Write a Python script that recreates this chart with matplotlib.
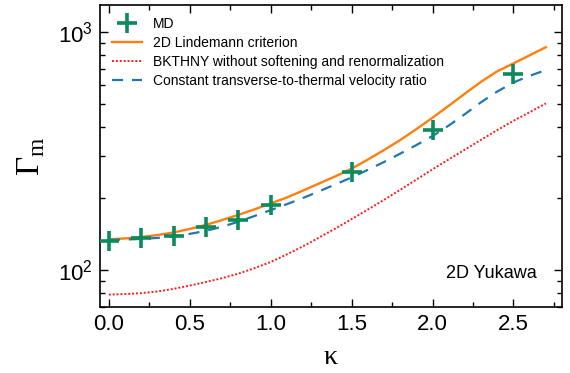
import numpy as np
import matplotlib
matplotlib.use('Agg')
import matplotlib.pyplot as plt
from matplotlib.ticker import LogLocator, MultipleLocator, NullFormatter

plt.rcParams['font.family'] = 'Liberation Sans'

# MD simulation points
md_kappa = [0.0, 0.2, 0.4, 0.6, 0.8, 1.0, 1.5, 2.0, 2.5]
md_gamma = [132, 136, 139, 151, 163, 188, 259, 388, 667]

curve_kappa = [0.0, 0.1, 0.2, 0.3, 0.4, 0.5, 0.6, 0.7, 0.8, 0.9, 1.0, 1.1, 1.2, 1.3,
               1.4, 1.5, 1.6, 1.7, 1.8, 1.9, 2.0, 2.1, 2.2, 2.3, 2.4, 2.5, 2.6, 2.7]
lindemann = [134.6, 135.8, 137.7, 140.3, 143.9, 148.9, 154.9, 162.2, 170.6, 179.9,
             190.5, 201.8, 215.8, 231.2, 247.7, 266.7, 291.1, 319.2, 351.6, 390.8,
             436.5, 489.8, 550.8, 618.0, 683.9, 737.9, 798.0, 863.0]
bkthny = [78.9, 79.3, 80.0, 81.3, 83.4, 86.1, 89.1, 92.5, 96.6, 101.9,
          108.1, 116.4, 125.9, 137.1, 149.6, 163.7, 179.5, 197.2, 217.3, 239.9,
          264.9, 291.7, 320.6, 352.4, 387.3, 423.6, 460.3, 501.2]
const_ratio = [134.0, 134.3, 135.2, 136.5, 138.7, 141.9, 146.2, 152.1, 159.6, 168.7,
               178.6, 189.2, 200.9, 214.3, 229.1, 244.9, 263.6, 284.4, 308.3, 335.0,
               365.6, 404.6, 451.9, 507.0, 562.3, 613.8, 654.6, 691.8]

fig = plt.figure(figsize=(5.7, 3.73), dpi=100)
ax = fig.add_axes([0.175, 0.177, 0.811, 0.81])

ax.plot(md_kappa, md_gamma, linestyle='none', marker='+', markersize=14,
        markeredgewidth=2.6, color='#0b8a5c', label='MD', zorder=4)
ax.plot(curve_kappa, lindemann, color='#ff7f0e', lw=1.7, label='2D Lindemann criterion')
ax.plot(curve_kappa, bkthny, color='#ff1a1a', lw=1.4, linestyle=(0, (1, 1)),
        label='BKTHNY without softening and renormalization')
ax.plot(curve_kappa, const_ratio, color='#1f77b4', lw=1.6, linestyle=(0, (5, 4)),
        label='Constant transverse-to-thermal velocity ratio')

ax.set_yscale('log')
ax.set_xlim(-0.056, 2.8)
ax.set_ylim(70, 1300)
ax.xaxis.set_major_locator(MultipleLocator(0.5))
ax.xaxis.set_minor_locator(MultipleLocator(0.25))
ax.xaxis.set_major_formatter(plt.FuncFormatter(lambda v, p: f'{v:.1f}'))
ax.yaxis.set_minor_locator(LogLocator(base=10, subs=np.arange(2, 10)))
ax.yaxis.set_minor_formatter(NullFormatter())

ax.tick_params(which='both', direction='in', top=True, right=True, labelsize=16, width=1)
ax.tick_params(which='major', length=6, pad=5)
ax.tick_params(which='minor', length=3.5)
for s in ax.spines.values():
    s.set_linewidth(1.2)

ax.set_xlabel('κ', family='Liberation Serif', fontsize=20, labelpad=7)
ax.set_ylabel('Γ$_\\mathregular{m}$', family='Liberation Serif', fontsize=24, labelpad=8)

ax.text(0.945, 0.11, '2D Yukawa', transform=ax.transAxes, ha='right', va='center', fontsize=13)

leg = ax.legend(loc='upper left', frameon=False, fontsize=10, handlelength=2.2,
                borderaxespad=0.45, labelspacing=0.36, handletextpad=0.75)

plt.savefig('out.png', dpi=100)
